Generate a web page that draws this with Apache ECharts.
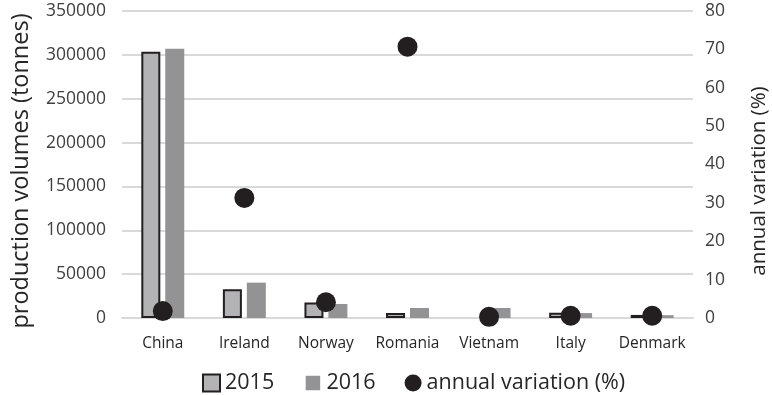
<!DOCTYPE html>
<html>
<head>
<meta charset="utf-8">
<script src="https://cdn.jsdelivr.net/npm/echarts@6/dist/echarts.min.js"></script>
<style>
  html, body { margin: 0; padding: 0; background: #fff; }
  #main { width: 772px; height: 395px; }
</style>
</head>
<body>
<div id="main"></div>
<script>
// data
var countries = ['China', 'Ireland', 'Norway', 'Romania', 'Vietnam', 'Italy', 'Denmark'];
var prod2015 = [303500, 32700, 17800, 5800, null, 6000, 3500];
var prod2016 = [306900, 40300, 16000, 11400, 11400, 5600, 3200];
var variation = [1.8, 31.3, 4.1, 70.7, 0.3, 0.6, 0.6];

var font = 'Open Sans';
var myChart = echarts.init(document.getElementById('main'));

var option = {
  backgroundColor: '#ffffff',
  textStyle: { fontFamily: font },
  grid: { left: 122, right: 79, top: 11, bottom: 77, outerBoundsMode: 'none' },
  // axis titles placed by hand, the reference has them off-centre
  graphic: [{
    type: 'text',
    x: 21, y: 171,
    rotation: Math.PI / 2,
    style: { text: 'production volumes (tonnes)', fontSize: 23.5, fontFamily: font, fill: '#262626', align: 'center', verticalAlign: 'middle' }
  }, {
    type: 'text',
    x: 759, y: 181,
    rotation: Math.PI / 2,
    style: { text: 'annual variation (%)', fontSize: 20.5, fontFamily: font, fill: '#262626', align: 'center', verticalAlign: 'middle' }
  }],
  legend: {
    top: 367,
    left: 197,
    itemWidth: 17,
    itemHeight: 17,
    itemGap: 29,
    textStyle: { fontSize: 21.5, color: '#262626', fontFamily: font },
    data: [
      { name: '2015', icon: 'rect', itemStyle: { color: '#b3b3b6', borderColor: '#231f20', borderWidth: 2 } },
      // white border shrinks the visible square like the reference key
      { name: '2016', icon: 'rect', itemStyle: { color: '#939396', borderColor: '#ffffff', borderWidth: 2.5 } },
      { name: 'annual variation (%)', icon: 'circle', itemStyle: { color: '#231f20' } }
    ]
  },
  xAxis: {
    type: 'category',
    data: countries,
    axisLine: { lineStyle: { color: '#d9d9d9', width: 2 } },
    axisTick: { show: false },
    axisLabel: { interval: 0, fontSize: 15.5, color: '#262626', margin: 18, fontFamily: font }
  },
  yAxis: [{
    type: 'value',
    min: 0,
    max: 350000,
    interval: 50000,
    axisLabel: { fontSize: 17.5, color: '#404040', margin: 16, fontFamily: font, formatter: function (v) { return String(v); } },
    splitLine: { lineStyle: { color: '#d9d9d9', width: 2 } },
    axisLine: { show: false },
    axisTick: { show: false }
  }, {
    type: 'value',
    min: 0,
    max: 80,
    interval: 10,
    axisLabel: { fontSize: 17.5, color: '#404040', margin: 12, fontFamily: font },
    splitLine: { show: false },
    axisLine: { show: false },
    axisTick: { show: false }
  }],
  series: [{
    name: '2015',
    type: 'bar',
    data: prod2015,
    barWidth: 19,
    barGap: '26%',
    itemStyle: { color: '#b3b3b6', borderColor: '#231f20', borderWidth: 2 }
  }, {
    name: '2016',
    type: 'bar',
    data: prod2016,
    barWidth: 19,
    itemStyle: { color: '#939396' }
  }, {
    name: 'annual variation (%)',
    type: 'scatter',
    yAxisIndex: 1,
    data: variation,
    symbol: 'circle',
    symbolSize: 20,
    itemStyle: { color: '#231f20', opacity: 1 },
    z: 5
  }]
};

myChart.setOption(option);
</script>
</body>
</html>
